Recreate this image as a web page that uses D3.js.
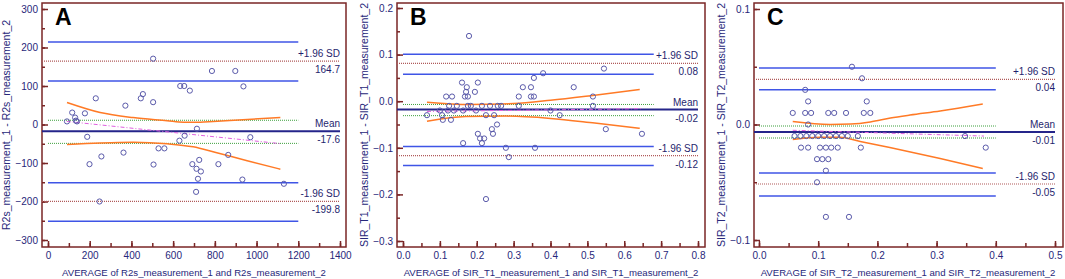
<!DOCTYPE html>
<html>
<head>
<meta charset="utf-8">
<script src="https://cdn.jsdelivr.net/npm/d3@7"></script>
<style>
  body { margin: 0; background: #fff; }
  svg { display: block; font-family: "Liberation Sans", Arial, sans-serif; }
</style>
</head>
<body>
<div id="chart"></div>
<script>
// ---- data ----
const panelLetters = ["A", "B", "C"];
const xTitles = [
    "AVERAGE of R2s_measurement_1 and R2s_measurement_2",
    "AVERAGE of SIR_T1_measurement_1 and SIR_T1_measurement_2",
    "AVERAGE of SIR_T2_measurement_1 and SIR_T2_measurement_2"
];
const yTitles = [
    "R2s_measurement_1 - R2s_measurement_2",
    "SIR_T1_measurement_1 - SIR_T1_measurement_2",
    "SIR_T2_measurement_1 - SIR_T2_measurement_2"
];

// tick values
const xTicksA = [0, 200, 400, 600, 800, 1000, 1200, 1400];
const yTicksA = [-300, -200, -100, 0, 100, 200, 300];
const xTicksB = [0, 0.1, 0.2, 0.3, 0.4, 0.5, 0.6, 0.7, 0.8];
const yTicksB = [-0.3, -0.2, -0.1, 0, 0.1, 0.2];
const xTicksC = [0, 0.1, 0.2, 0.3, 0.4, 0.5];
const yTicksC = [-0.1, 0, 0.1];
const minorStep = [[100, 50], [0.05, 0.05], [0.05, 0.05]]; // [x, y]

// +1.96 SD, mean, -1.96 SD and their confidence intervals
const agreeA = [164.7, -17.6, -199.8];
const agreeCiA = [[113, 214], [-49, 11], [-251, -151]];
const agreeB = [0.081, -0.018, -0.117];
const agreeCiB = [[0.058, 0.101], [-0.031, -0.007], [-0.138, -0.097]];
const agreeC = [0.039, -0.0065, -0.0515];
const agreeCiC = [[0.030, 0.049], [-0.0117, -0.0013], [-0.062, -0.042]];
const agreeText = [["164.7", "-17.6", "-199.8"], ["0.08", "-0.02", "-0.12"], ["0.04", "-0.01", "-0.05"]];
const agreeNames = ["+1.96 SD", "Mean", "-1.96 SD"];
const ciEnd = [1200, 0.68, 0.4];

// regression line of differences and its confidence band
const regA = [[90, 8], [1120, -50]];
const regUpperA = [[91, 57], [250, 31], [408, 18], [571, 10], [650, 6], [730, 6], [792, 8], [955, 13], [1114, 18]];
const regLowerA = [[91, -52], [250, -48], [408, -46], [571, -50], [696, -58], [800, -72], [955, -94], [1114, -116]];
const regB = [[0.065, -0.022], [0.648, -0.016]];
const regUpperB = [[0.065, -0.002], [0.18, -0.007], [0.30, -0.005], [0.40, 0.002], [0.52, 0.013], [0.642, 0.025]];
const regLowerB = [[0.065, -0.043], [0.17, -0.033], [0.28, -0.032], [0.40, -0.037], [0.52, -0.047], [0.642, -0.058]];
const regC = [[0.057, -0.005], [0.38, -0.010]];
const regUpperC = [[0.057, 0.0026], [0.12, 0.0], [0.155, 0.0004], [0.188, 0.0022], [0.222, 0.0056], [0.255, 0.0082], [0.306, 0.0117], [0.378, 0.0177]];
const regLowerC = [[0.057, -0.013], [0.103, -0.011], [0.137, -0.011], [0.171, -0.0147], [0.221, -0.0199], [0.306, -0.0294], [0.378, -0.0381]];

// scatter points [average, difference]
const pointsA = [
    [91, 8], [116, 31], [130, 18], [134, 10], [139, 8], [177, 29], [188, -32], [199, -103],
    [229, 68], [247, -200], [256, -83], [362, -73], [371, 49], [445, 68], [455, 79], [504, 58],
    [504, 171], [506, -104], [530, -62], [558, -62], [630, -42], [634, 100], [653, 100], [655, -29],
    [680, 88], [692, -103], [710, -175], [712, -115], [714, -11], [719, -141], [725, -92], [733, -122],
    [786, 139], [817, -103], [864, -79], [898, 139], [932, -143], [937, 99], [970, -33], [1131, -154]
];
const pointsB = [
    [0.065, -0.03], [0.100, -0.02], [0.106, -0.03], [0.108, -0.04], [0.117, 0.01], [0.122, -0.02],
    [0.125, -0.01], [0.130, -0.04], [0.133, 0.01], [0.138, -0.02], [0.146, -0.01], [0.160, 0.04],
    [0.163, -0.02], [0.163, -0.09], [0.168, 0.01], [0.171, 0.02], [0.173, 0.03], [0.176, 0.01],
    [0.176, -0.01], [0.179, 0.14], [0.184, -0.01], [0.195, 0.02], [0.198, -0.02], [0.203, 0.04],
    [0.203, -0.07], [0.209, -0.08], [0.214, -0.01], [0.214, -0.09], [0.220, -0.08], [0.225, -0.03],
    [0.225, -0.21], [0.236, -0.01], [0.241, -0.06], [0.244, -0.07], [0.247, -0.03], [0.255, -0.05],
    [0.257, -0.01], [0.266, -0.01], [0.279, -0.10], [0.287, -0.12], [0.314, 0.01], [0.314, -0.01],
    [0.325, 0.03], [0.347, 0.03], [0.347, 0.01], [0.355, 0.01], [0.355, 0.05], [0.358, -0.10],
    [0.380, 0.06], [0.400, -0.02], [0.425, -0.03], [0.463, 0.03], [0.515, 0.01], [0.515, -0.01],
    [0.545, 0.07], [0.550, -0.06], [0.648, -0.07]
];
const pointsC = [
    [0.157, 0.05], [0.174, 0.04], [0.078, 0.03], [0.083, 0.02], [0.182, 0.02],
    [0.057, 0.01], [0.078, 0.01], [0.088, 0.01], [0.117, 0.01], [0.127, 0.01], [0.147, 0.01], [0.177, 0.01], [0.188, 0.01],
    [0.083, 0.0],
    [0.06, -0.01], [0.07, -0.01], [0.08, -0.01], [0.09, -0.01], [0.10, -0.01], [0.11, -0.01], [0.12, -0.01],
    [0.13, -0.01], [0.14, -0.01], [0.15, -0.01], [0.167, -0.01], [0.348, -0.01],
    [0.071, -0.02], [0.083, -0.02], [0.103, -0.02], [0.113, -0.02], [0.122, -0.02], [0.133, -0.02], [0.172, -0.02], [0.383, -0.02],
    [0.098, -0.03], [0.107, -0.03], [0.117, -0.03], [0.113, -0.04], [0.098, -0.05], [0.113, -0.08], [0.152, -0.08]
];

// ---- layout (pixels) ----
const layouts = [
    { left: 42, right: 346, top: 3, bottom: 247, xRange: [48, 340], yRange: [240, 9], yTitleX: 10, xTitleX: 194 },
    { left: 397, right: 705, top: 3, bottom: 247, xRange: [403, 698], yRange: [241, 8], yTitleX: 368, xTitleX: 551 },
    { left: 754, right: 1063, top: 3, bottom: 247, xRange: [759, 1055], yRange: [240, 9], yTitleX: 725, xTitleX: 908 }
];

const frameColor = "#7a2626";
const textColor = "#27277a";

const svg = d3.select("#chart").append("svg")
    .attr("width", 1065)
    .attr("height", 279);

function minorTicks(ticks, step) {
    const out = [];
    const lo = d3.min(ticks), hi = d3.max(ticks);
    const n = Math.round((hi - lo) / step);
    for (let i = 0; i <= n; i++) out.push(+(lo + i * step).toFixed(6));
    return out;
}

function drawPanel(i, xTicks, yTicks, agree, agreeCi, reg, regUpper, regLower, points) {
    const lay = layouts[i];
    const g = svg.append("g");

    const x = d3.scaleLinear().domain(d3.extent(xTicks)).range(lay.xRange);
    const y = d3.scaleLinear().domain(d3.extent(yTicks)).range(lay.yRange);
    const xEnd = x(d3.max(xTicks));

    // frame
    g.append("rect")
        .attr("x", lay.left).attr("y", lay.top)
        .attr("width", lay.right - lay.left).attr("height", lay.bottom - lay.top)
        .attr("fill", "none").attr("stroke", frameColor).attr("stroke-width", 1.5);

    // y axis (ticks point inward)
    g.append("g").attr("transform", `translate(${lay.left},0)`)
        .call(d3.axisLeft(y).tickValues(yTicks).tickSize(-6).tickPadding(4)
            .tickFormat(i === 0 ? d3.format("d") : d3.format(".1f")));
    g.append("g").attr("transform", `translate(${lay.left},0)`)
        .call(d3.axisLeft(y).tickValues(minorTicks(yTicks, minorStep[i][1])).tickSize(-3).tickFormat(""));

    // x axis
    g.append("g").attr("transform", `translate(0,${lay.bottom})`)
        .call(d3.axisBottom(x).tickValues(xTicks).tickSize(-6).tickPadding(5)
            .tickFormat(i === 0 ? d3.format("d") : d3.format(".1f")));
    g.append("g").attr("transform", `translate(0,${lay.bottom})`)
        .call(d3.axisBottom(x).tickValues(minorTicks(xTicks, minorStep[i][0])).tickSize(-4).tickFormat(""));

    g.selectAll(".domain").remove();
    g.selectAll(".tick line").attr("stroke", frameColor).attr("stroke-width", 1.5);
    g.selectAll(".tick text").attr("fill", textColor).style("font-size", "10px")
        .style("font-family", "'Liberation Sans', Arial, sans-serif");

    // titles
    g.append("text")
        .attr("x", lay.xTitleX).attr("y", 276)
        .attr("text-anchor", "middle").attr("fill", textColor)
        .style("font-size", "9.6px")
        .text(xTitles[i]);
    g.append("text")
        .attr("transform", `translate(${lay.yTitleX},125) rotate(-90)`)
        .attr("text-anchor", "middle").attr("fill", textColor)
        .style("font-size", "10.5px")
        .text(yTitles[i]);

    // panel letter
    g.append("text")
        .attr("x", lay.left + 13).attr("y", 25)
        .attr("fill", "#000").style("font-size", "23px").style("font-weight", "bold")
        .text(panelLetters[i]);

    // CI of mean (green dotted)
    g.append("g").selectAll("line").data(agreeCi[1]).join("line")
        .attr("x1", x(0)).attr("x2", x(ciEnd[i]))
        .attr("y1", d => y(d)).attr("y2", d => y(d))
        .attr("stroke", "#3da03d").attr("stroke-width", 1).attr("stroke-dasharray", "1,1");

    // limits of agreement (brown dotted)
    g.append("g").selectAll("line").data([agree[0], agree[2]]).join("line")
        .attr("x1", lay.left).attr("x2", xEnd)
        .attr("y1", d => y(d)).attr("y2", d => y(d))
        .attr("stroke", "#b05a5a").attr("stroke-width", 1.2).attr("stroke-dasharray", "1,1");

    // CI of limits (blue)
    g.append("g").selectAll("line").data([...agreeCi[0], ...agreeCi[2]]).join("line")
        .attr("x1", x(0)).attr("x2", x(ciEnd[i]))
        .attr("y1", d => y(d)).attr("y2", d => y(d))
        .attr("stroke", "#3f55e6").attr("stroke-width", 1.5);

    // mean (navy)
    g.append("line")
        .attr("x1", lay.left).attr("x2", xEnd)
        .attr("y1", y(agree[1])).attr("y2", y(agree[1]))
        .attr("stroke", "#25258a").attr("stroke-width", 2);

    // labels
    agree.forEach((v, k) => {
        g.append("text")
            .attr("x", xEnd).attr("y", y(v) - 4)
            .attr("text-anchor", "end").attr("fill", "#1f1f6e")
            .style("font-size", "10px")
            .text(agreeNames[k]);
        g.append("text")
            .attr("x", xEnd).attr("y", y(v) + 12)
            .attr("text-anchor", "end").attr("fill", "#1f1f6e")
            .style("font-size", "10px")
            .text(agreeText[i][k]);
    });

    // regression line (magenta dash-dot)
    const line = d3.line().x(d => x(d[0])).y(d => y(d[1]));
    g.append("path").datum(reg)
        .attr("d", line)
        .attr("fill", "none").attr("stroke", "#e060e0").attr("stroke-width", 1)
        .attr("stroke-dasharray", "4,2,1,2");

    // regression confidence band (orange)
    const curve = d3.line().x(d => x(d[0])).y(d => y(d[1])).curve(d3.curveMonotoneX);
    g.append("g").selectAll("path").data([regUpper, regLower]).join("path")
        .attr("d", curve)
        .attr("fill", "none").attr("stroke", "#ff7a26").attr("stroke-width", 1.5);

    // points
    g.append("g").selectAll("circle").data(points).join("circle")
        .attr("cx", d => x(d[0])).attr("cy", d => y(d[1]))
        .attr("r", 2.6)
        .attr("fill", "none").attr("stroke", "#5a5aaa").attr("stroke-width", 1);
}

drawPanel(0, xTicksA, yTicksA, agreeA, agreeCiA, regA, regUpperA, regLowerA, pointsA);
drawPanel(1, xTicksB, yTicksB, agreeB, agreeCiB, regB, regUpperB, regLowerB, pointsB);
drawPanel(2, xTicksC, yTicksC, agreeC, agreeCiC, regC, regUpperC, regLowerC, pointsC);
</script>
</body>
</html>
